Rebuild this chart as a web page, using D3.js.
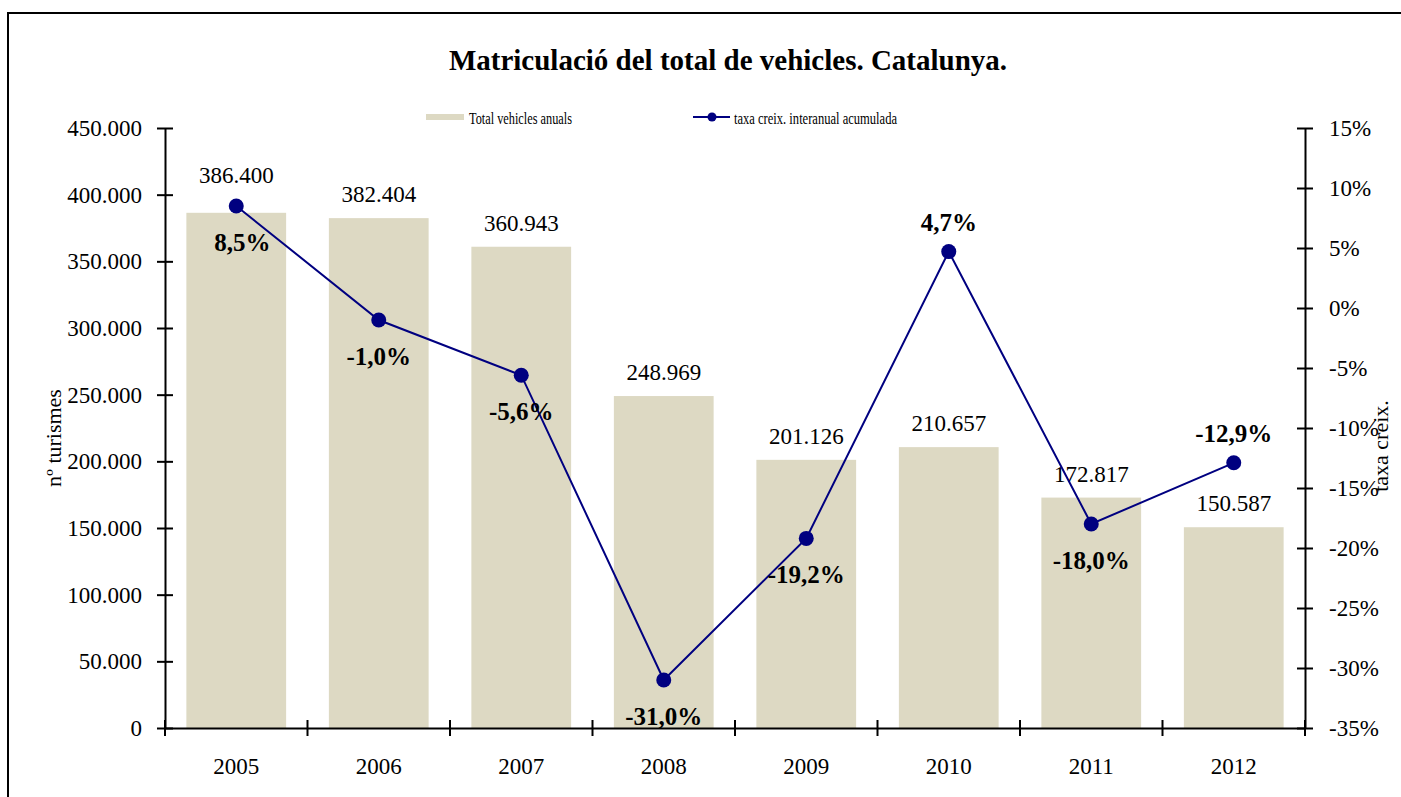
<!DOCTYPE html>
<html>
<head>
<meta charset="utf-8">
<script src="https://cdn.jsdelivr.net/npm/d3@7"></script>
<style>
  body { margin: 0; background: #fff; }
  svg { display: block; font-family: "Liberation Serif", "Times New Roman", serif; }
</style>
</head>
<body>
<svg id="chart" width="1401" height="797"></svg>
<script>
// data
var years = ["2005", "2006", "2007", "2008", "2009", "2010", "2011", "2012"];
var vehicles = [386400, 382404, 360943, 248969, 201126, 210657, 172817, 150587];
var growth = [8.5, -1.0, -5.6, -31.0, -19.2, 4.7, -18.0, -12.9];
var leftTicks = [0, 50000, 100000, 150000, 200000, 250000, 300000, 350000, 400000, 450000];
var rightTicks = [-35, -30, -25, -20, -15, -10, -5, 0, 5, 10, 15];

var svg = d3.select("#chart");
var margin = {top: 128, left: 165, right: 1305, bottom: 728};

// frame around the chart (runs off the picture at right/bottom)
svg.append("rect")
  .attr("x", 8).attr("y", 13)
  .attr("width", 1420).attr("height", 820)
  .attr("fill", "none").attr("stroke", "#000").attr("stroke-width", 2);

svg.append("text")
  .attr("x", 728).attr("y", 70)
  .attr("text-anchor", "middle")
  .attr("font-size", 29).attr("font-weight", "bold")
  .text("Matriculació del total de vehicles. Catalunya.");

var x = d3.scaleBand()
  .domain(years)
  .range([margin.left, margin.right])
  .paddingInner(0.3).paddingOuter(0.15);

var xc = function(d) { return x(d) + x.bandwidth() / 2; };

var y = d3.scaleLinear().domain([0, 450000]).range([margin.bottom, margin.top]);
var y2 = d3.scaleLinear().domain([-35, 15]).range([margin.bottom, margin.top]);

// bars
svg.selectAll("rect.bar")
  .data(vehicles)
  .enter().append("rect")
  .attr("class", "bar")
  .attr("x", function(d, i) { return x(years[i]); })
  .attr("y", function(d) { return y(d); })
  .attr("width", x.bandwidth())
  .attr("height", function(d) { return y(0) - y(d); })
  .attr("fill", "#ddd9c3");

// bar value labels
var fmt = function(v) { return d3.format(",")(v).replace(/,/g, "."); };
svg.selectAll("text.val")
  .data(vehicles)
  .enter().append("text")
  .attr("class", "val")
  .attr("x", function(d, i) { return xc(years[i]); })
  .attr("y", function(d, i) { return y(d) - (i == 0 ? 30 : 16); })
  .attr("text-anchor", "middle")
  .attr("font-size", 23)
  .text(function(d) { return fmt(d); });

// axes
var leftAxis = svg.append("g")
  .attr("transform", "translate(" + margin.left + ",0)")
  .call(d3.axisLeft(y).tickValues(leftTicks).tickSize(0).tickPadding(23)
    .tickFormat(function(d) { return fmt(d); }));

var rightAxis = svg.append("g")
  .attr("transform", "translate(" + margin.right + ",0)")
  .call(d3.axisRight(y2).tickValues(rightTicks).tickSize(0).tickPadding(24)
    .tickFormat(function(d) { return d + "%"; }));

var bottomAxis = svg.append("g")
  .attr("transform", "translate(0," + margin.bottom + ")")
  .call(d3.axisBottom(x).tickSize(0).tickPadding(30));

[leftAxis, rightAxis, bottomAxis].forEach(function(g) {
  g.selectAll("text").attr("font-size", 23).attr("font-family", "Liberation Serif").attr("fill", "#000");
  g.select(".domain").attr("stroke", "#000").attr("stroke-width", 2);
});

// cross ticks
leftAxis.selectAll(".tick").append("line")
  .attr("x1", -8).attr("x2", 8).attr("stroke", "#000").attr("stroke-width", 2);
rightAxis.selectAll(".tick").append("line")
  .attr("x1", -8).attr("x2", 8).attr("stroke", "#000").attr("stroke-width", 2);

var bounds = years.map(function(d) { return x(d) - x.step() * x.paddingInner() / 2; });
bounds[0] = margin.left;
bounds.push(margin.right);
svg.selectAll("line.xt")
  .data(bounds)
  .enter().append("line")
  .attr("class", "xt")
  .attr("x1", function(d) { return d; }).attr("x2", function(d) { return d; })
  .attr("y1", margin.bottom - 8).attr("y2", margin.bottom + 8)
  .attr("stroke", "#000").attr("stroke-width", 2);

// axis titles
svg.append("text")
  .attr("transform", "translate(61,438) rotate(-90)")
  .attr("text-anchor", "middle")
  .attr("font-size", 22)
  .text("nº turismes");

svg.append("text")
  .attr("transform", "translate(1388,446) rotate(-90)")
  .attr("text-anchor", "middle")
  .attr("font-size", 22)
  .text("taxa creix.");

// growth line
var line = d3.line()
  .x(function(d, i) { return xc(years[i]); })
  .y(function(d) { return y2(d); });

svg.append("path")
  .datum(growth)
  .attr("d", line)
  .attr("fill", "none")
  .attr("stroke", "#000080")
  .attr("stroke-width", 2);

svg.selectAll("circle.pt")
  .data(growth)
  .enter().append("circle")
  .attr("class", "pt")
  .attr("cx", function(d, i) { return xc(years[i]); })
  .attr("cy", function(d) { return y2(d); })
  .attr("r", 7.5)
  .attr("fill", "#000080");

// growth labels: above the point for 2010 and 2012, below otherwise
var labelAbove = [false, false, false, false, false, true, false, true];
var pct = function(v) { return v.toFixed(1).replace(".", ",") + "%"; };
svg.selectAll("text.pct")
  .data(growth)
  .enter().append("text")
  .attr("class", "pct")
  .attr("x", function(d, i) { return xc(years[i]) + (i == 0 ? 6 : 0); })
  .attr("y", function(d, i) { return y2(d) + (labelAbove[i] ? -21 : 45); })
  .attr("text-anchor", "middle")
  .attr("font-size", 25)
  .attr("font-weight", "bold")
  .text(function(d) { return pct(d); });

// legend
svg.append("rect")
  .attr("x", 426).attr("y", 114).attr("width", 38).attr("height", 6)
  .attr("fill", "#ddd9c3");
svg.append("text")
  .attr("x", 469).attr("y", 124)
  .attr("font-size", 17)
  .attr("textLength", 103).attr("lengthAdjust", "spacingAndGlyphs")
  .text("Total vehicles anuals");

svg.append("line")
  .attr("x1", 693).attr("x2", 730).attr("y1", 117).attr("y2", 117)
  .attr("stroke", "#000080").attr("stroke-width", 2);
svg.append("circle")
  .attr("cx", 712).attr("cy", 117).attr("r", 4.5).attr("fill", "#000080");
svg.append("text")
  .attr("x", 734).attr("y", 124)
  .attr("font-size", 17)
  .attr("textLength", 163).attr("lengthAdjust", "spacingAndGlyphs")
  .text("taxa creix. interanual acumulada");
</script>
</body>
</html>
